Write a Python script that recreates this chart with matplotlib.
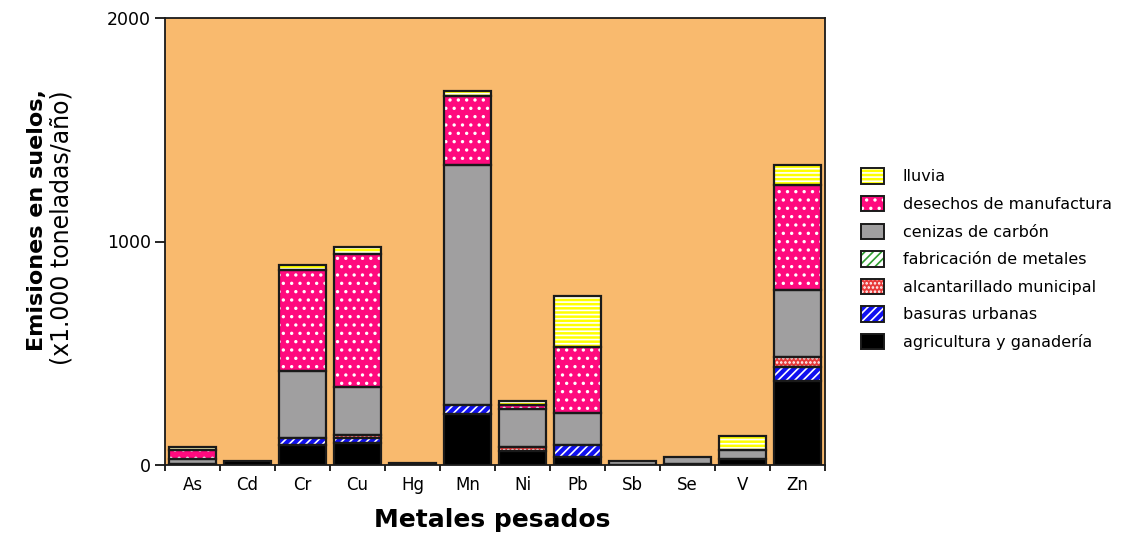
import matplotlib
matplotlib.use("Agg")
import matplotlib.pyplot as plt
from matplotlib.patches import Patch
from matplotlib.legend_handler import HandlerTuple
import numpy as np

metals = ['As', 'Cd', 'Cr', 'Cu', 'Hg', 'Mn', 'Ni', 'Pb', 'Sb', 'Se', 'V', 'Zn']
agricultura = [5, 20, 90, 100, 8, 228, 64, 37, 2, 5, 28, 377]
basuras = [0, 0, 30, 20, 0, 40, 0, 52, 0, 0, 0, 60]
alcantarillado = [0, 0, 0, 15, 0, 0, 15, 0, 0, 0, 0, 45]
fabricacion = [0, 0, 0, 0, 0, 0, 0, 0, 0, 0, 0, 0]
cenizas = [20, 0, 301, 216, 0, 1074, 170, 145, 15, 30, 40, 301]
desechos = [40, 0, 452, 594, 0, 309, 18, 293, 0, 0, 0, 470]
lluvia = [15, 0, 22, 30, 0, 22, 19, 231, 0, 0, 60, 89]

series = [
    ('agricultura y ganadería', agricultura, '#000000', None),
    ('basuras urbanas', basuras, '#1010F0', '////'),
    ('alcantarillado municipal', alcantarillado, '#E83A3A', '....'),
    ('fabricación de metales', fabricacion, '#FFFFFF', '////'),
    ('cenizas de carbón', cenizas, '#A09FA0', None),
    ('desechos de manufactura', desechos, '#FF0A7E', '..'),
    ('lluvia', lluvia, '#FFFF00', '----'),
]
hatch_colors = {'basuras urbanas': 'white', 'alcantarillado municipal': 'white',
                'fabricación de metales': '#2E9E2E', 'desechos de manufactura': 'white',
                'lluvia': 'white'}

plt.rcParams['hatch.linewidth'] = 1.2
fig = plt.figure(figsize=(11.47, 5.34), dpi=100)
ax = fig.add_axes([165/1147, 1-465/534, 660/1147, 447/534])
ax.set_facecolor('#F9BA6E')

x = np.arange(len(metals))
w = 0.87
bottom = np.zeros(len(metals))
handles = {}
for name, vals, fc, hatch in series:
    vals = np.array(vals, dtype=float)
    mask = vals > 0
    if mask.any():
        ax.bar(x[mask], vals[mask], w, bottom=bottom[mask], color=fc,
               hatch=hatch, edgecolor=hatch_colors.get(name, fc), linewidth=0, zorder=2)
        ax.bar(x[mask], vals[mask], w, bottom=bottom[mask], facecolor='none',
               edgecolor='#1a1a1a', linewidth=1.6, zorder=3)
    bottom += vals
    handles[name] = (fc, hatch, hatch_colors.get(name, fc))

ax.set_xlim(-0.5, 11.5)
ax.set_ylim(0, 2000)
ax.set_yticks([0, 1000, 2000])
ax.set_yticklabels(['0', '1000', '2000'], fontsize=12.5)
ax.tick_params(axis='y', direction='out', length=7, width=1.2, pad=3)
ax.set_xticks(x)
ax.set_xticklabels(metals, fontsize=12)
ax.tick_params(axis='x', which='major', length=0, pad=8)
ax.set_xticks(np.arange(-0.5, 12, 1), minor=True)
ax.tick_params(axis='x', which='minor', direction='out', length=4, width=1.2)
for s in ax.spines.values():
    s.set_linewidth(1.3)
    s.set_color('#1a1a1a')

fig.text(492/1147, 1-520/534, 'Metales pesados', ha='center', va='center',
         fontsize=18, fontweight='bold')
fig.text(37/1147, 1-220/534, 'Emisiones en suelos,', rotation=90, ha='center', va='center',
         fontsize=16, fontweight='bold')
fig.text(61/1147, 1-228/534, '(x1.000 toneladas/año)', rotation=90, ha='center', va='center',
         fontsize=17)

leg_order = ['lluvia', 'desechos de manufactura', 'cenizas de carbón',
             'fabricación de metales', 'alcantarillado municipal', 'basuras urbanas',
             'agricultura y ganadería']
leg_handles = []
for n in leg_order:
    fc, hatch, hc = handles[n]
    fill = Patch(facecolor=fc, hatch=hatch, edgecolor=hc, linewidth=0)
    outline = Patch(facecolor='none', edgecolor='#1a1a1a', linewidth=1.4)
    leg_handles.append((fill, outline))
leg = fig.legend(handles=leg_handles, labels=leg_order, loc='upper left',
                 bbox_to_anchor=(855/1147, 1-162/534),
                 handler_map={tuple: HandlerTuple(ndivide=1, pad=0)},
                 frameon=False, fontsize=11.5, handlelength=1.4, handleheight=1.1,
                 labelspacing=0.72, handletextpad=1.2, borderaxespad=0)

fig.savefig('out.png', dpi=100, facecolor='white')
